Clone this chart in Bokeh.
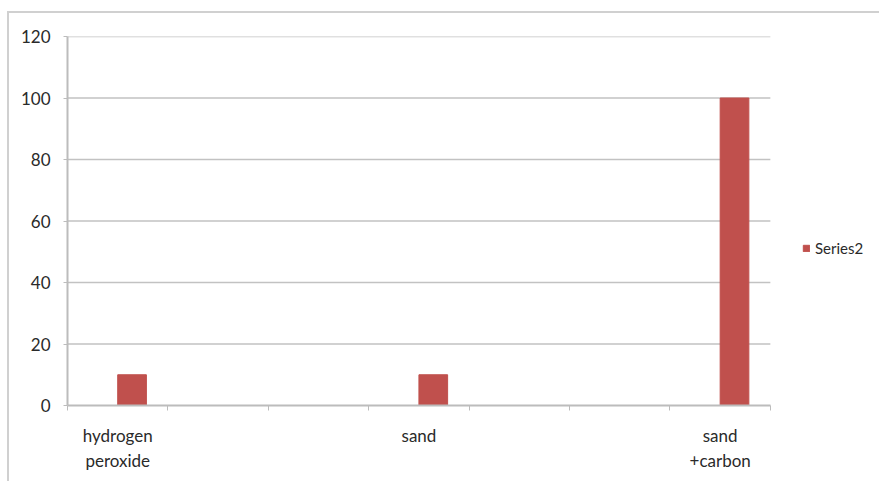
from bokeh.plotting import figure
from bokeh.models import (Range1d, LinearAxis, FixedTicker, Legend, LegendItem,
                          ColumnDataSource)
from bokeh.transform import dodge
from bokeh.embed import file_html
from bokeh.resources import INLINE

# Chart data: seven category slots, only three of them labelled and filled
categories = ["hydrogen\nperoxide", "", "", "sand", "", "", "sand\n+carbon"]
series2 = [10, None, None, 10, None, None, 100]
y_ticks = [0, 20, 40, 60, 80, 100, 120]

FONT = "Lato"
TEXT = "#2a2a2a"
GRID = "#c2c2c2"
AXIS = "#bcbcbc"
BAR = "#c0504d"

n = len(categories)
bar_width = 1 / 3.5          # two series per slot with a 150% gap
filled = [i for i, v in enumerate(series2) if v is not None]
src = ColumnDataSource(dict(x=[i + 0.5 for i in filled],
                            top=[series2[i] for i in filled]))

# the frame runs to the right edge so the legend can sit beside the bars;
# categories take the first 702 px of its 813 px
FRAME_W, SLOTS_W = 813, 702
x_end = n * FRAME_W / SLOTS_W

p = figure(width=872, height=470,
           x_range=Range1d(0, x_end), y_range=Range1d(0, 120),
           x_axis_type=None, output_backend="svg", toolbar_location=None,
           min_border_left=58, min_border_right=0,
           min_border_top=23, min_border_bottom=78)
p.margin = (11, 0, 0, 7)
p.styles = {"border-top": "2px solid #d0d0d0", "border-left": "2px solid #d0d0d0"}
p.outline_line_color = None
p.background_fill_color = "white"
p.border_fill_color = "white"
p.ygrid.visible = False

# horizontal gridlines across the category area only
p.segment(x0=0, x1=n, y0=y_ticks[1:], y1=y_ticks[1:],
          line_color=GRID, line_width=1.5)

# Series2 sits in the right half of each slot
bars = p.vbar(x=dodge("x", bar_width / 2), top="top", bottom=0, width=bar_width,
              source=src, fill_color=BAR, line_color=BAR)

# y axis
p.yaxis.ticker = FixedTicker(ticks=y_ticks)
p.yaxis.axis_line_color = AXIS
p.yaxis.axis_line_width = 2
p.yaxis.major_tick_line_color = AXIS
p.yaxis.major_tick_out = 4
p.yaxis.major_tick_in = 0
p.yaxis.minor_tick_line_color = None
p.yaxis.major_label_standoff = 13
p.yaxis.major_label_text_font = FONT
p.yaxis.major_label_text_font_size = "17px"
p.yaxis.major_label_text_color = TEXT

# x axis line with tick marks on the slot boundaries
bounds = list(range(n + 1))
boundary_axis = LinearAxis(ticker=FixedTicker(ticks=bounds), bounds=(0, n),
                           major_label_overrides={b: "" for b in bounds},
                           major_label_standoff=0,
                           major_tick_out=5, major_tick_in=0,
                           major_tick_line_color=AXIS,
                           minor_tick_line_color=None,
                           axis_line_color=AXIS, axis_line_width=2)
p.add_layout(boundary_axis, "below")

# category names centred under their slots
label_pos = [i + 0.5 for i, c in enumerate(categories) if c]
label_axis = LinearAxis(ticker=FixedTicker(ticks=label_pos),
                        major_label_overrides={i + 0.5: c for i, c in enumerate(categories) if c},
                        major_label_standoff=8,
                        major_tick_line_color=None, minor_tick_line_color=None,
                        axis_line_color=None,
                        major_label_text_font=FONT,
                        major_label_text_font_size="17px",
                        major_label_text_color=TEXT)
p.add_layout(label_axis, "below")

# legend entry, to the right of the category area
legend = Legend(items=[LegendItem(label="Series2", renderers=[bars])],
                location=(735, 148), margin=0, padding=2,
                glyph_width=8, glyph_height=8, label_standoff=5,
                label_text_font=FONT, label_text_font_size="15px",
                label_text_color=TEXT, border_line_color=None,
                background_fill_alpha=0)
p.add_layout(legend, "center")

open("out.html", "w").write(file_html(p, INLINE))
